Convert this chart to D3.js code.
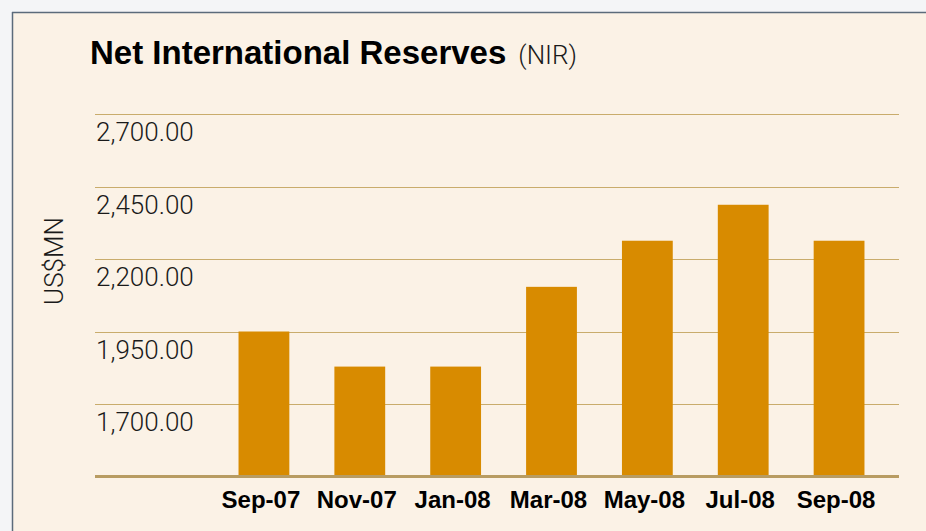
<!DOCTYPE html>
<html lang="en">
<head>
    <meta charset="UTF-8">
    <title>Net International Reserves (NIR)</title>
    <script src="https://d3js.org/d3.v7.min.js"></script>
    <style>
        html, body { margin: 0; padding: 0; background: #f4f5f7; }
        svg { display: block; }
        .light { font-family: "Helvetica Neue", Roboto, "Liberation Sans", Arial, sans-serif; font-weight: 300; fill: #1a1a1a; }
        .bold { font-family: "Helvetica Neue", "Liberation Sans", Arial, sans-serif; font-weight: bold; fill: #000; }
    </style>
</head>
<body>
    <svg id="chart"></svg>

    <script>
        const months = ["Sep-07", "Nov-07", "Jan-08", "Mar-08", "May-08", "Jul-08", "Sep-08"];
        const reserves = [1950, 1829, 1829, 2104, 2263, 2387, 2263];
        const yTicks = [1700, 1950, 2200, 2450, 2700];

        const width = 926, height = 531;
        const svg = d3.select("#chart").attr("width", width).attr("height", height);

        // panel
        svg.append("rect").attr("x", 12).attr("y", 12).attr("width", width).attr("height", height)
            .attr("fill", "#fbf2e6");
        svg.append("line").attr("x1", 12).attr("x2", width).attr("y1", 12.5).attr("y2", 12.5)
            .attr("stroke", "#5b6b7b").attr("stroke-width", 1.5);
        svg.append("line").attr("x1", 12.5).attr("x2", 12.5).attr("y1", 12).attr("y2", height)
            .attr("stroke", "#5b6b7b").attr("stroke-width", 1.5);

        // title
        const title = svg.append("text").attr("x", 90).attr("y", 64);
        title.append("tspan").attr("class", "bold").attr("font-size", 33).text("Net International Reserves");
        title.append("tspan").attr("class", "light").attr("font-size", 26).attr("dx", 12).text("(NIR)");

        const left = 95, right = 899;
        const y = d3.scaleLinear().domain([1450, 2700]).range([476.5, 114]);
        const x = d3.scaleBand().domain(months).range([216, 887]).paddingInner(0.47).paddingOuter(0.235);

        // grid + tick labels
        svg.append("g").selectAll("line").data(yTicks).join("line")
            .attr("x1", left).attr("x2", right)
            .attr("y1", d => Math.round(y(d)) + 0.5).attr("y2", d => Math.round(y(d)) + 0.5)
            .attr("stroke", "#c9ac6c").attr("stroke-width", 1.2);

        svg.append("g").selectAll("text").data(yTicks).join("text")
            .attr("class", "light")
            .attr("x", left + 1).attr("y", d => y(d) + 27)
            .attr("font-size", 26)
            .text(d => d3.format(",.2f")(d));

        // bars
        svg.append("g").selectAll("rect").data(reserves).join("rect")
            .attr("x", (d, i) => x(months[i]))
            .attr("width", x.bandwidth())
            .attr("y", d => y(d))
            .attr("height", d => y(1450) - y(d))
            .attr("fill", "#d88b00");

        // baseline
        svg.append("line").attr("x1", left).attr("x2", right)
            .attr("y1", y(1450)).attr("y2", y(1450))
            .attr("stroke", "#b89c62").attr("stroke-width", 3);

        // x labels
        svg.append("g").selectAll("text").data(months).join("text")
            .attr("class", "bold")
            .attr("x", d => x(d) + x.bandwidth() / 2 - 3)
            .attr("y", 508)
            .attr("text-anchor", "middle")
            .attr("font-size", 24)
            .text(d => d);

        // y axis title
        svg.append("text")
            .attr("class", "light")
            .attr("transform", "translate(63,261) rotate(-90)")
            .attr("text-anchor", "middle")
            .attr("font-size", 26)
            .text("US$MN");
    </script>
</body>
</html>
